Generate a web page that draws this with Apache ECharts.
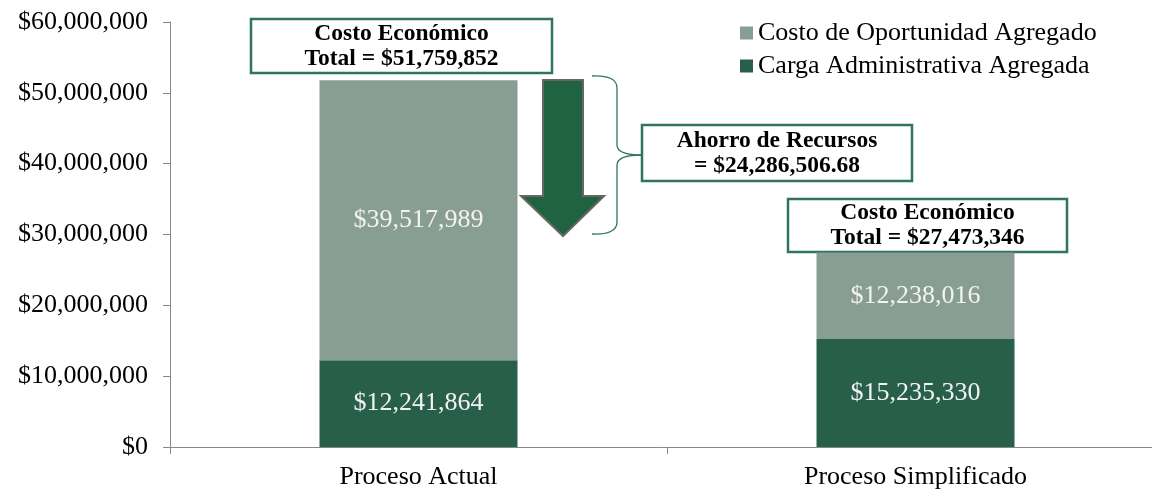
<!DOCTYPE html>
<html>
<head>
<meta charset="utf-8">
<script src="https://cdn.jsdelivr.net/npm/echarts@6/dist/echarts.min.js"></script>
<style>
  html, body { margin: 0; padding: 0; background: #fff; }
  #chart { width: 1152px; height: 492px; }
</style>
</head>
<body>
<div id="chart"></div>
<script>
const categories = ['Proceso Actual', 'Proceso Simplificado']
const cargaAdmin = [12241864, 15235330]
const costoOportunidad = [39517989, 12238016]
const totalLabels = ['$51,759,852', '$27,473,346']
const ahorroLabel = '= $24,286,506.68'
const yTicks = [0, 10000000, 20000000, 30000000, 40000000, 50000000, 60000000]

const FONT = '"Liberation Serif", "Times New Roman", serif'
const dark = '#285f4a'
const light = '#889e93'
const boxGreen = '#2f7559'

function money(v) {
  return '$' + Math.round(v).toLocaleString('en-US')
}

function box(x, y, w, h, lines) {
  return {
    type: 'group',
    children: [
      { type: 'rect', shape: { x, y, width: w, height: h },
        style: { fill: '#fff', stroke: boxGreen, lineWidth: 2.5 } },
      { type: 'text', x: x + w / 2, y: y + h / 2,
        style: { text: lines.join('\n'), font: 'bold 23.5px ' + FONT, fill: '#000',
          align: 'center', verticalAlign: 'middle', lineHeight: 25 } }
    ]
  }
}

function braceLine(x1, y1, x2, y2) {
  return { type: 'line', shape: { x1, y1, x2, y2 },
    style: { stroke: boxGreen, lineWidth: 1.3 } }
}

function braceCurve(x1, y1, cpx1, cpy1, x2, y2) {
  return { type: 'bezierCurve', shape: { x1, y1, x2, y2, cpx1, cpy1 },
    style: { stroke: boxGreen, lineWidth: 1.3, fill: 'none' } }
}

const chart = echarts.init(document.getElementById('chart'), null, { renderer: 'canvas' })

chart.setOption({
  backgroundColor: '#fff',
  animation: false,
  textStyle: { fontFamily: FONT },
  grid: { left: 170, width: 994, top: 22, bottom: 45, containLabel: false, outerBoundsMode: 'none' },
  legend: {
    data: ['Costo de Oportunidad Agregado', 'Carga Administrativa Agregada'],
    orient: 'vertical',
    left: 740,
    top: 20,
    padding: 0,
    itemWidth: 13,
    itemHeight: 13,
    itemGap: 7,
    icon: 'rect',
    textStyle: { fontFamily: FONT, fontSize: 26, color: '#000', padding: [0, 0, 0, 0] }
  },
  xAxis: {
    type: 'category',
    data: categories,
    axisLine: { lineStyle: { color: '#888', width: 1 } },
    axisTick: { show: true, length: 7, lineStyle: { color: '#888' } },
    axisLabel: { color: '#000', fontSize: 26, fontFamily: FONT, margin: 17 }
  },
  yAxis: {
    type: 'value',
    min: 0,
    max: 60000000,
    interval: 10000000,
    axisLine: { show: true, lineStyle: { color: '#888', width: 1 } },
    axisTick: { show: true, length: 7, lineStyle: { color: '#888' } },
    splitLine: { show: false },
    axisLabel: {
      color: '#000', fontSize: 26, fontFamily: FONT, margin: 22,
      formatter: (v) => yTicks.includes(v) ? money(v) : ''
    }
  },
  series: [
    {
      name: 'Carga Administrativa Agregada',
      type: 'bar',
      stack: 'total',
      barWidth: 198,
      data: cargaAdmin,
      itemStyle: { color: dark },
      label: { show: true, position: 'inside', color: '#f2f2f2', fontSize: 26, fontFamily: FONT,
        formatter: (p) => money(p.value) }
    },
    {
      name: 'Costo de Oportunidad Agregado',
      type: 'bar',
      stack: 'total',
      barWidth: 198,
      data: costoOportunidad,
      itemStyle: { color: light },
      label: { show: true, position: 'inside', color: '#f2f2f2', fontSize: 26, fontFamily: FONT,
        formatter: (p) => money(p.value) }
    }
  ],
  graphic: [
    box(251, 19, 301, 54, ['Costo Económico', 'Total = ' + totalLabels[0]]),
    box(788, 199, 279, 53, ['Costo Económico', 'Total = ' + totalLabels[1]]),
    box(642, 125, 270, 56, ['Ahorro de Recursos', ahorroLabel]),
    {
      type: 'polygon',
      shape: { points: [[543, 80], [583, 80], [583, 196], [604, 196], [563, 236], [521, 196], [543, 196]] },
      style: { fill: '#1f6340', stroke: '#666', lineWidth: 2 }
    },
    braceCurve(592, 76, 617, 75, 617, 88),
    braceLine(617, 88, 617, 145),
    braceCurve(617, 145, 617, 155, 642, 155),
    braceCurve(642, 155, 617, 155, 617, 165),
    braceLine(617, 165, 617, 222),
    braceCurve(617, 222, 617, 235, 592, 234)
  ]
})
</script>
</body>
</html>
